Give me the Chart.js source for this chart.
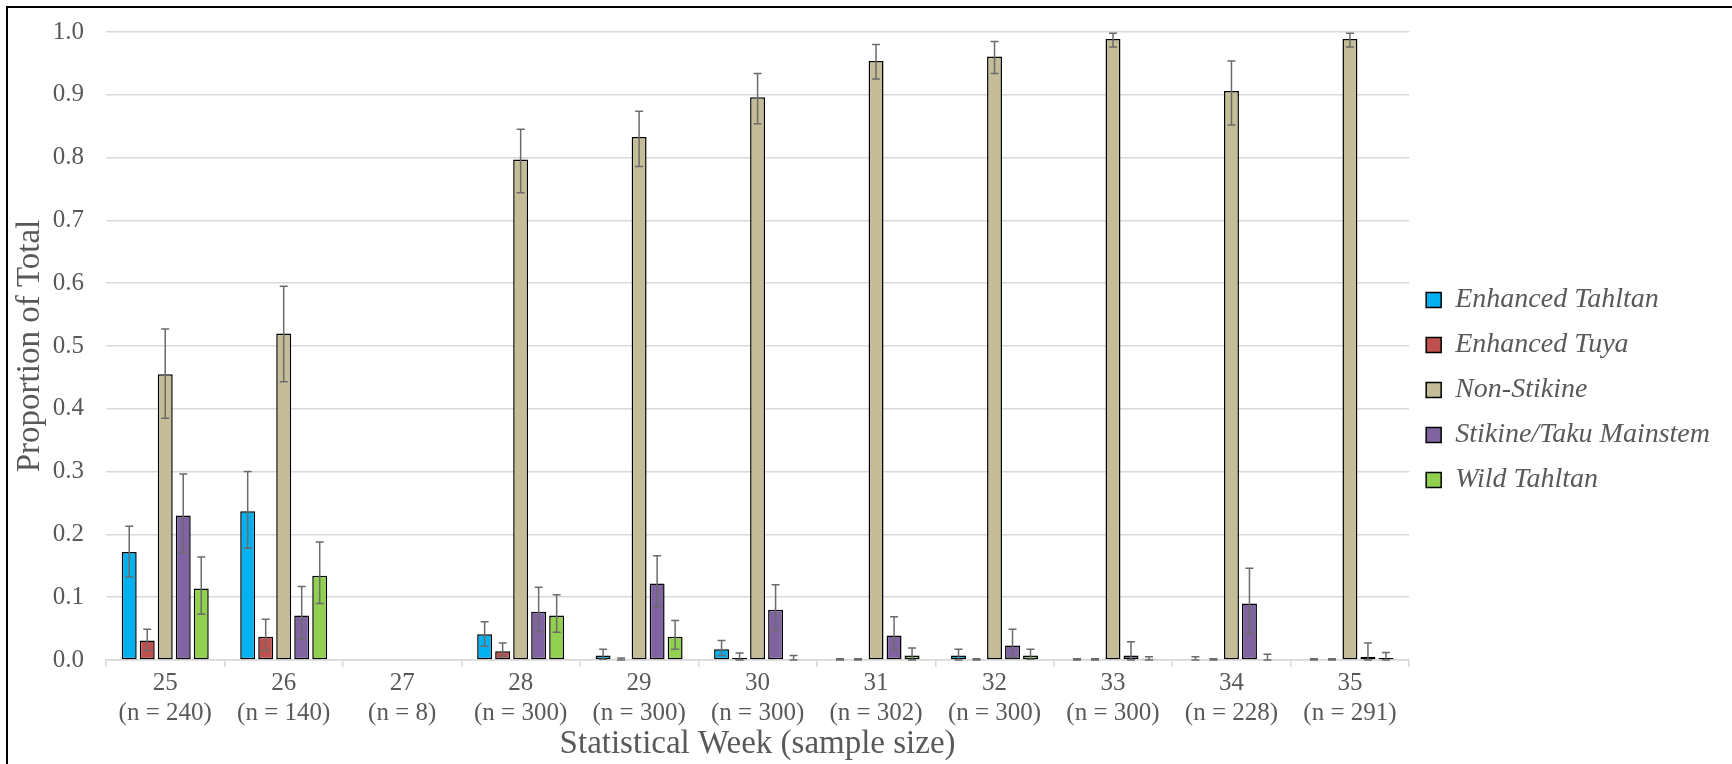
<!DOCTYPE html>
<html>
<head>
<meta charset="utf-8">
<script src="https://cdn.jsdelivr.net/npm/chart.js@4.4.1/dist/chart.umd.min.js"></script>
<style>
  html, body { margin: 0; padding: 0; background: #fff; overflow: hidden; }
  #wrap { position: relative; width: 1732px; height: 764px; }
  #frame { position: absolute; left: 6px; top: 6px; width: 1740px; height: 770px;
           border-left: 2px solid #000; border-top: 2px solid #000; }
  #myChart { position: absolute; left: 0; top: 0; }
</style>
</head>
<body>
<div id="wrap">
  <canvas id="myChart" width="1732" height="764"></canvas>
  <div id="frame"></div>
</div>
<script>
// statistical weeks and their sample sizes
var weeks = ["25", "26", "27", "28", "29", "30", "31", "32", "33", "34", "35"];
var sampleSizes = [240, 140, 8, 300, 300, 300, 302, 300, 300, 228, 291];

// proportions (week 27 had too few samples, nothing plotted)
var enhTahltan   = [0.172, 0.237, null, 0.041, 0.007, 0.017, 0.001, 0.007, 0.001, 0.001, 0.001];
var enhTahltanLo = [0.132, 0.178, null, 0.022, 0.001, 0.007, 0.000, 0.000, 0.000, 0.000, 0.000];
var enhTahltanHi = [0.213, 0.300, null, 0.061, 0.017, 0.031, 0.002, 0.017, 0.002, 0.005, 0.002];

var enhTuya   = [0.031, 0.037, null, 0.014, 0.001, 0.003, 0.001, 0.001, 0.001, 0.001, 0.001];
var enhTuyaLo = [0.015, 0.015, null, 0.006, 0.000, 0.000, 0.000, 0.000, 0.000, 0.000, 0.000];
var enhTuyaHi = [0.049, 0.065, null, 0.027, 0.003, 0.011, 0.002, 0.002, 0.002, 0.002, 0.002];

var nonStikine   = [0.455, 0.520, null, 0.797, 0.833, 0.896, 0.954, 0.961, 0.989, 0.906, 0.989];
var nonStikineLo = [0.385, 0.443, null, 0.744, 0.786, 0.854, 0.925, 0.934, 0.976, 0.852, 0.976];
var nonStikineHi = [0.527, 0.595, null, 0.845, 0.874, 0.934, 0.980, 0.985, 0.998, 0.954, 0.998];

var mainstem   = [0.230, 0.071, null, 0.077, 0.122, 0.080, 0.039, 0.023, 0.007, 0.090, 0.005];
var mainstemLo = [0.171, 0.033, null, 0.045, 0.084, 0.047, 0.016, 0.004, 0.000, 0.042, 0.000];
var mainstemHi = [0.296, 0.117, null, 0.116, 0.166, 0.120, 0.069, 0.049, 0.029, 0.146, 0.027];

var wildTahltan   = [0.114, 0.134, null, 0.071, 0.037, 0.001, 0.007, 0.007, 0.002, 0.001, 0.003];
var wildTahltanLo = [0.073, 0.090, null, 0.044, 0.017, 0.000, 0.000, 0.001, 0.000, 0.000, 0.000];
var wildTahltanHi = [0.164, 0.188, null, 0.104, 0.063, 0.007, 0.019, 0.017, 0.005, 0.009, 0.012];

var yTicks = [0, 0.1, 0.2, 0.3, 0.4, 0.5, 0.6, 0.7, 0.8, 0.9, 1.0];

var labels = weeks.map(function(w, i) { return [w, "(n = " + sampleSizes[i] + ")"]; });
var textColor = "#595959";
var serif = "'Liberation Serif', 'Times New Roman', serif";

function series(name, color, vals, lo, hi) {
    return {
        label: name,
        data: vals,
        errLo: lo,
        errHi: hi,
        backgroundColor: color,
        borderColor: "#000",
        borderWidth: 1.5,
        borderSkipped: false,
        categoryPercentage: 0.76,
        barPercentage: 0.83
    };
}

// whiskers drawn with the chart's own y scale
var errorBars = {
    id: 'errorBars',
    afterDatasetsDraw: function(chart) {
        var ctx = chart.ctx;
        var y = chart.scales.y;
        ctx.save();
        ctx.strokeStyle = "#6b6b6b";
        ctx.lineWidth = 1.5;
        chart.data.datasets.forEach(function(ds, i) {
            chart.getDatasetMeta(i).data.forEach(function(bar, j) {
                if (ds.errLo[j] == null) return;
                var x = bar.x;
                var yl = y.getPixelForValue(ds.errLo[j]);
                var yh = y.getPixelForValue(ds.errHi[j]);
                ctx.beginPath();
                ctx.moveTo(x, yl); ctx.lineTo(x, yh);
                ctx.moveTo(x - 4, yl); ctx.lineTo(x + 4, yl);
                ctx.moveTo(x - 4, yh); ctx.lineTo(x + 4, yh);
                ctx.stroke();
            });
        });
        ctx.restore();
    }
};

// nudge the legend block up a little
var legendShift = {
    id: 'legendShift',
    afterLayout: function(chart) {
        chart.legend.top -= 8;
        chart.legend.bottom -= 8;
    }
};

var ctx = document.getElementById("myChart");
var myChart = new Chart(ctx, {
    type: 'bar',
    data: {
        labels: labels,
        datasets: [
            series("Enhanced Tahltan", "#00B0F0", enhTahltan, enhTahltanLo, enhTahltanHi),
            series("Enhanced Tuya", "#C0504D", enhTuya, enhTuyaLo, enhTuyaHi),
            series("Non-Stikine", "#C4BD97", nonStikine, nonStikineLo, nonStikineHi),
            series("Stikine/Taku Mainstem", "#8064A2", mainstem, mainstemLo, mainstemHi),
            series("Wild Tahltan", "#92D050", wildTahltan, wildTahltanLo, wildTahltanHi)
        ]
    },
    options: {
        responsive: false,
        animation: false,
        devicePixelRatio: 1,
        layout: { padding: { top: 32, right: 12, left: 0, bottom: 0 } },
        plugins: {
            tooltip: { enabled: false },
            legend: {
                position: 'right',
                labels: {
                    boxWidth: 15,
                    boxHeight: 15,
                    padding: 17,
                    color: textColor,
                    font: { family: serif, size: 28, style: 'italic' }
                }
            }
        },
        scales: {
            x: {
                afterFit: function(s) { s.height = 104; },
                grid: { drawOnChartArea: false, drawTicks: true, tickLength: 7, color: "#d9d9d9", lineWidth: 1.5, offset: true },
                border: { color: "#d9d9d9", width: 1.5 },
                ticks: { color: textColor, font: { family: serif, size: 25, lineHeight: 1.2 }, padding: 1, maxRotation: 0, autoSkip: false },
                title: { display: true, text: "Statistical Week (sample size)", color: textColor,
                         font: { family: serif, size: 33 }, padding: { top: 0, bottom: 0 } }
            },
            y: {
                min: 0, max: 1,
                afterFit: function(s) { s.width = 106; s.paddingTop = 0; s.paddingBottom = 0; },
                afterBuildTicks: function(s) { s.ticks = yTicks.map(function(v) { return { value: v }; }); },
                grid: { color: "#d9d9d9", lineWidth: 1.5, drawTicks: false },
                border: { display: false },
                ticks: { color: textColor, font: { family: serif, size: 25 }, padding: 22,
                         callback: function(v) { return v.toFixed(1); } },
                title: { display: true, text: "Proportion of Total", color: textColor,
                         font: { family: serif, size: 33 }, padding: { top: 11, bottom: 0 } }
            }
        }
    },
    plugins: [errorBars, legendShift]
});
</script>
</body>
</html>
